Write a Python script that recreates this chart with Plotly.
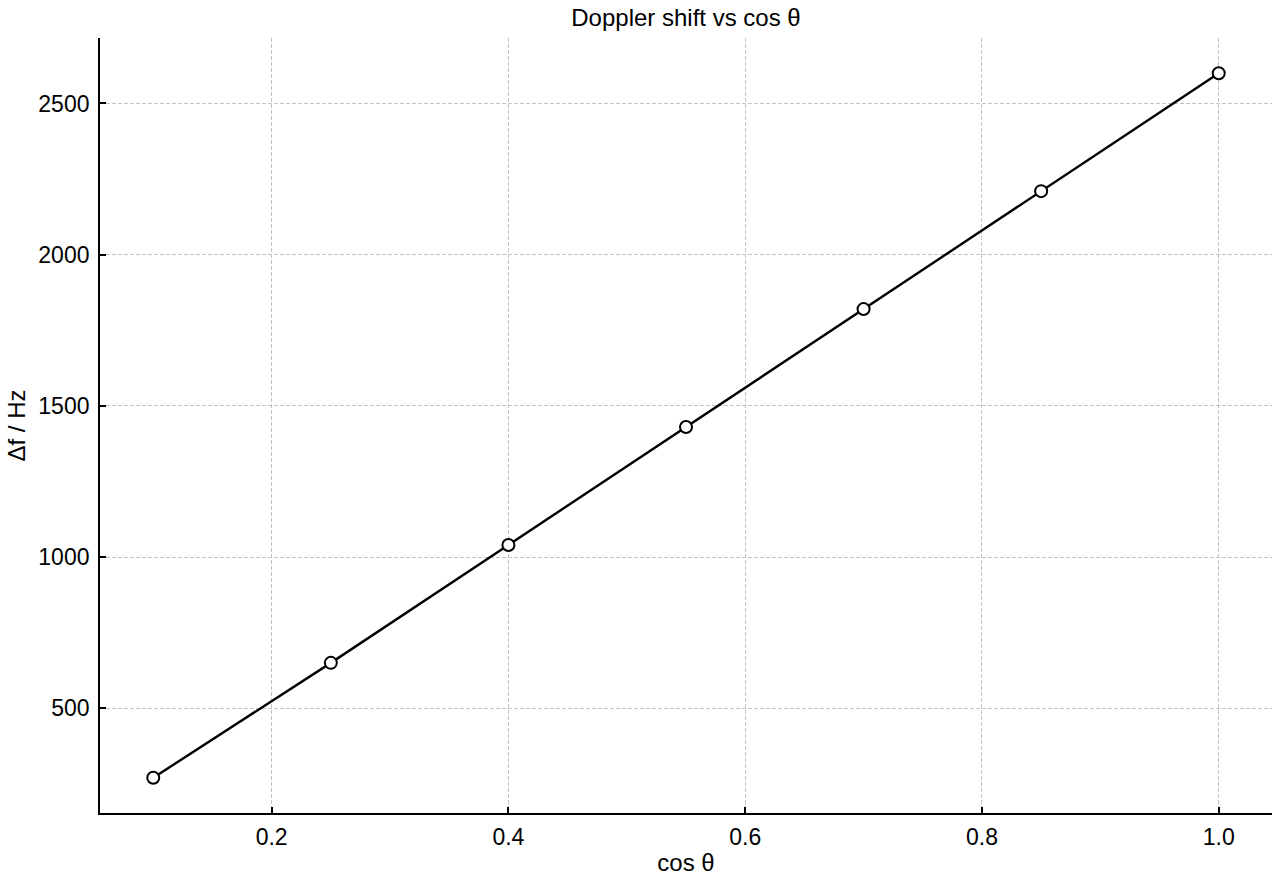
import plotly.graph_objects as go

# cos(theta) values and measured Doppler shift in Hz
cos_theta = [0.1, 0.25, 0.4, 0.55, 0.7, 0.85, 1.0]
delta_f = [270, 650, 1040, 1430, 1820, 2210, 2600]

x_ticks = [0.2, 0.4, 0.6, 0.8, 1.0]
x_labels = ["0.2", "0.4", "0.6", "0.8", "1.0"]
y_ticks = [500, 1000, 1500, 2000, 2500]

fig = go.Figure()
fig.add_trace(go.Scatter(
    x=cos_theta, y=delta_f,
    mode="lines+markers",
    line=dict(color="black", width=2.4),
    marker=dict(symbol="circle", size=12, color="white",
                line=dict(color="black", width=2)),
    showlegend=False,
))

# matplotlib-like 5% padding around the data
xpad = (max(cos_theta) - min(cos_theta)) * 0.05
ypad = (max(delta_f) - min(delta_f)) * 0.05

axis_common = dict(
    showline=True, linecolor="black", linewidth=1.8,
    ticks="inside", ticklen=6, tickwidth=1.5, tickcolor="black",
    showgrid=True, gridcolor="#c4c4c4", gridwidth=0.8, griddash="4px,2px",
    zeroline=False, mirror=False,
    tickfont=dict(size=23, color="black"),
)

fig.update_layout(
    width=1280, height=880,
    paper_bgcolor="white", plot_bgcolor="white",
    font=dict(family="Liberation Sans, Arial, sans-serif", color="black"),
    title=dict(text="Doppler shift vs cos θ", xref="paper", x=0.5, xanchor="center",
               y=1 - 18 / 880, yanchor="middle", font=dict(size=24)),
    margin=dict(l=100, r=8, t=38, b=67),
    xaxis=dict(axis_common, range=[min(cos_theta) - xpad, max(cos_theta) + xpad],
               tickvals=x_ticks, ticktext=x_labels, ticklabelstandoff=2,
               title=dict(text="cos θ", font=dict(size=24), standoff=6)),
    yaxis=dict(axis_common, range=[min(delta_f) - ypad, max(delta_f) + ypad],
               tickvals=y_ticks, ticklabelstandoff=4,
               title=dict(text="Δf / Hz", font=dict(size=24), standoff=6)),
)

# drop the default page margin so the figure sits at the window corner
fig.write_html("out.html", config={"displayModeBar": False},
               post_script="document.body.style.margin='0';")
